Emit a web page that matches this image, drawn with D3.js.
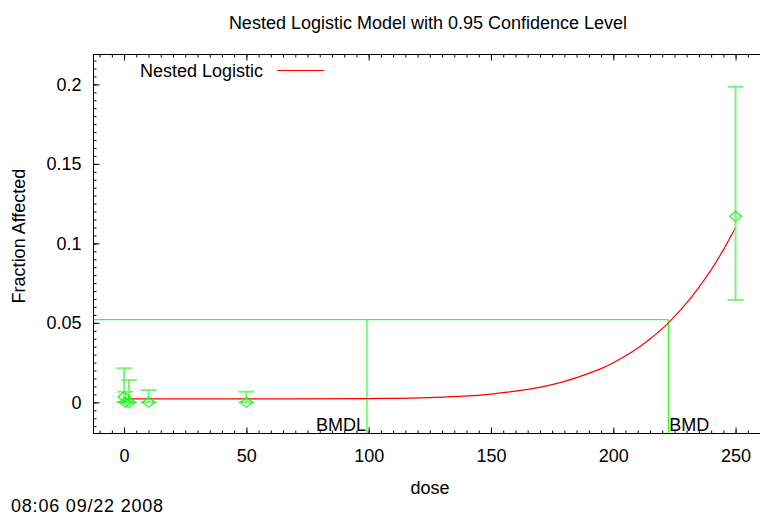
<!DOCTYPE html>
<html>
<head>
<meta charset="utf-8">
<script src="https://cdn.jsdelivr.net/npm/d3@7"></script>
<style>
  body { margin: 0; background: #fff; }
  svg { display: block; font-family: "Liberation Sans", Arial, sans-serif; }
</style>
</head>
<body>
<script>
// observed data (dose groups)
var doses = [0, 0.5, 2, 10, 50, 250];
var fracs = [0.0035, 0, 0, 0, 0, 0.117];
var lower = [0.0002, 0, 0, 0, 0, 0.0644];
var upper = [0.0214, 0.0067, 0.014, 0.0077, 0.0067, 0.1985];

// fitted curve
var curveDose = [0, 50, 100, 125, 150, 175, 195, 200, 210, 215, 222, 230, 235, 240, 245, 250];
var curveFrac = [0.0022, 0.0022, 0.0024, 0.0030, 0.0052, 0.0111, 0.0212, 0.0249, 0.0341, 0.0398, 0.0492, 0.0625, 0.0723, 0.0833, 0.0959, 0.110];

var bmd = 222.5, bmdl = 99.3, bmrLevel = 0.052;

var xTicks = [0, 50, 100, 150, 200, 250];
var yTicks = [0, 0.05, 0.1, 0.15, 0.2];

var width = 760, height = 516;
var margin = {top: 54.5, left: 93.5, bottom: 433.5};

var svg = d3.select("body").append("svg")
    .attr("width", width)
    .attr("height", height);

var xscale = d3.scaleLinear()
    .domain([-12.5, 265])
    .range([margin.left, margin.left + 277.5 * 2.446]);

var yscale = d3.scaleLinear()
    .domain([-0.0196, 0.2188])
    .range([margin.bottom, margin.top]);

// frame
svg.append("rect")
    .attr("x", margin.left)
    .attr("y", margin.top)
    .attr("width", 700)
    .attr("height", margin.bottom - margin.top)
    .attr("fill", "none")
    .attr("stroke", "#000");

var fmtY = d => d === 0 ? "0" : String(d);

// bottom axis with labels
svg.append("g")
    .attr("transform", `translate(0,${margin.bottom})`)
    .call(d3.axisBottom(xscale).tickValues(xTicks).tickSize(-6).tickPadding(16).tickFormat(d3.format("d")))
    .call(g => g.select(".domain").remove())
    .call(g => g.selectAll("text").attr("font-size", 18).attr("font-family", "Liberation Sans, Arial, sans-serif").attr("fill", "#000"));

svg.append("g")
    .attr("transform", `translate(0,${margin.bottom})`)
    .call(d3.axisBottom(xscale).tickValues(d3.range(-10, 265, 5)).tickSize(-3).tickFormat(""))
    .call(g => g.select(".domain").remove());

// top axis
svg.append("g")
    .attr("transform", `translate(0,${margin.top})`)
    .call(d3.axisTop(xscale).tickValues(xTicks).tickSize(-6).tickFormat(""))
    .call(g => g.select(".domain").remove());
svg.append("g")
    .attr("transform", `translate(0,${margin.top})`)
    .call(d3.axisTop(xscale).tickValues(d3.range(-10, 265, 5)).tickSize(-3).tickFormat(""))
    .call(g => g.select(".domain").remove());

// left axis
svg.append("g")
    .attr("transform", `translate(${margin.left},0)`)
    .call(d3.axisLeft(yscale).tickValues(yTicks).tickSize(-6).tickPadding(12).tickFormat(fmtY))
    .call(g => g.select(".domain").remove())
    .call(g => g.selectAll("text").attr("font-size", 18).attr("font-family", "Liberation Sans, Arial, sans-serif").attr("fill", "#000"));
svg.append("g")
    .attr("transform", `translate(${margin.left},0)`)
    .call(d3.axisLeft(yscale).tickValues(d3.range(-0.015, 0.218, 0.005)).tickSize(-3).tickFormat(""))
    .call(g => g.select(".domain").remove());

// BMD / BMDL lines
var green = "#00ff00";
svg.append("line")
    .attr("x1", margin.left).attr("x2", xscale(bmd))
    .attr("y1", yscale(bmrLevel)).attr("y2", yscale(bmrLevel))
    .attr("stroke", green);
svg.append("line")
    .attr("x1", xscale(bmd)).attr("x2", xscale(bmd))
    .attr("y1", yscale(bmrLevel)).attr("y2", margin.bottom)
    .attr("stroke", green);
svg.append("line")
    .attr("x1", xscale(bmdl)).attr("x2", xscale(bmdl))
    .attr("y1", yscale(bmrLevel)).attr("y2", margin.bottom)
    .attr("stroke", green);

svg.append("text")
    .attr("x", xscale(bmdl) - 1)
    .attr("y", margin.bottom - 3)
    .attr("text-anchor", "end")
    .attr("font-size", 18)
    .text("BMDL");
svg.append("text")
    .attr("x", xscale(bmd) + 1)
    .attr("y", margin.bottom - 3)
    .attr("font-size", 18)
    .text("BMD");

// fitted curve
var line = d3.line()
    .x((d, i) => xscale(curveDose[i]))
    .y(d => yscale(d))
    .curve(d3.curveCatmullRom);

svg.append("path")
    .datum(curveFrac)
    .attr("fill", "none")
    .attr("stroke", "#ff0000")
    .attr("stroke-width", 1.2)
    .attr("d", line);

// error bars
var bars = svg.append("g")
    .attr("stroke", "#66f066")
    .attr("stroke-opacity", 0.85)
    .attr("stroke-width", 2);
doses.forEach(function(d, i) {
    var x = xscale(d);
    bars.append("line").attr("x1", x).attr("x2", x).attr("y1", yscale(lower[i])).attr("y2", yscale(upper[i]));
    bars.append("line").attr("x1", x - 8).attr("x2", x + 8).attr("y1", yscale(upper[i])).attr("y2", yscale(upper[i]));
    bars.append("line").attr("x1", x - 8).attr("x2", x + 8).attr("y1", yscale(lower[i])).attr("y2", yscale(lower[i]));
});

// diamonds
svg.append("g").selectAll("path")
    .data(fracs)
    .join("path")
    .attr("d", (d, i) => {
        var x = xscale(doses[i]), y = yscale(d);
        return `M${x - 6},${y}L${x},${y - 5}L${x + 6},${y}L${x},${y + 5}Z`;
    })
    .attr("fill", "none")
    .attr("stroke", green)
    .attr("stroke-width", 1.2);

// legend
svg.append("text")
    .attr("x", 140)
    .attr("y", 77)
    .attr("font-size", 18)
    .text("Nested Logistic");
svg.append("line")
    .attr("x1", 277).attr("x2", 324)
    .attr("y1", 70.5).attr("y2", 70.5)
    .attr("stroke", "#ff0000");

// titles
svg.append("text")
    .attr("x", 428)
    .attr("y", 29)
    .attr("text-anchor", "middle")
    .attr("font-size", 18)
    .text("Nested Logistic Model with 0.95 Confidence Level");

svg.append("text")
    .attr("x", 430)
    .attr("y", 494)
    .attr("text-anchor", "middle")
    .attr("font-size", 18)
    .text("dose");

svg.append("text")
    .attr("transform", "translate(25,236) rotate(-90)")
    .attr("text-anchor", "middle")
    .attr("font-size", 18)
    .text("Fraction Affected");

svg.append("text")
    .attr("x", 11)
    .attr("y", 512)
    .attr("font-size", 18)
    .attr("letter-spacing", 0.8)
    .text("08:06 09/22 2008");
</script>
</body>
</html>
